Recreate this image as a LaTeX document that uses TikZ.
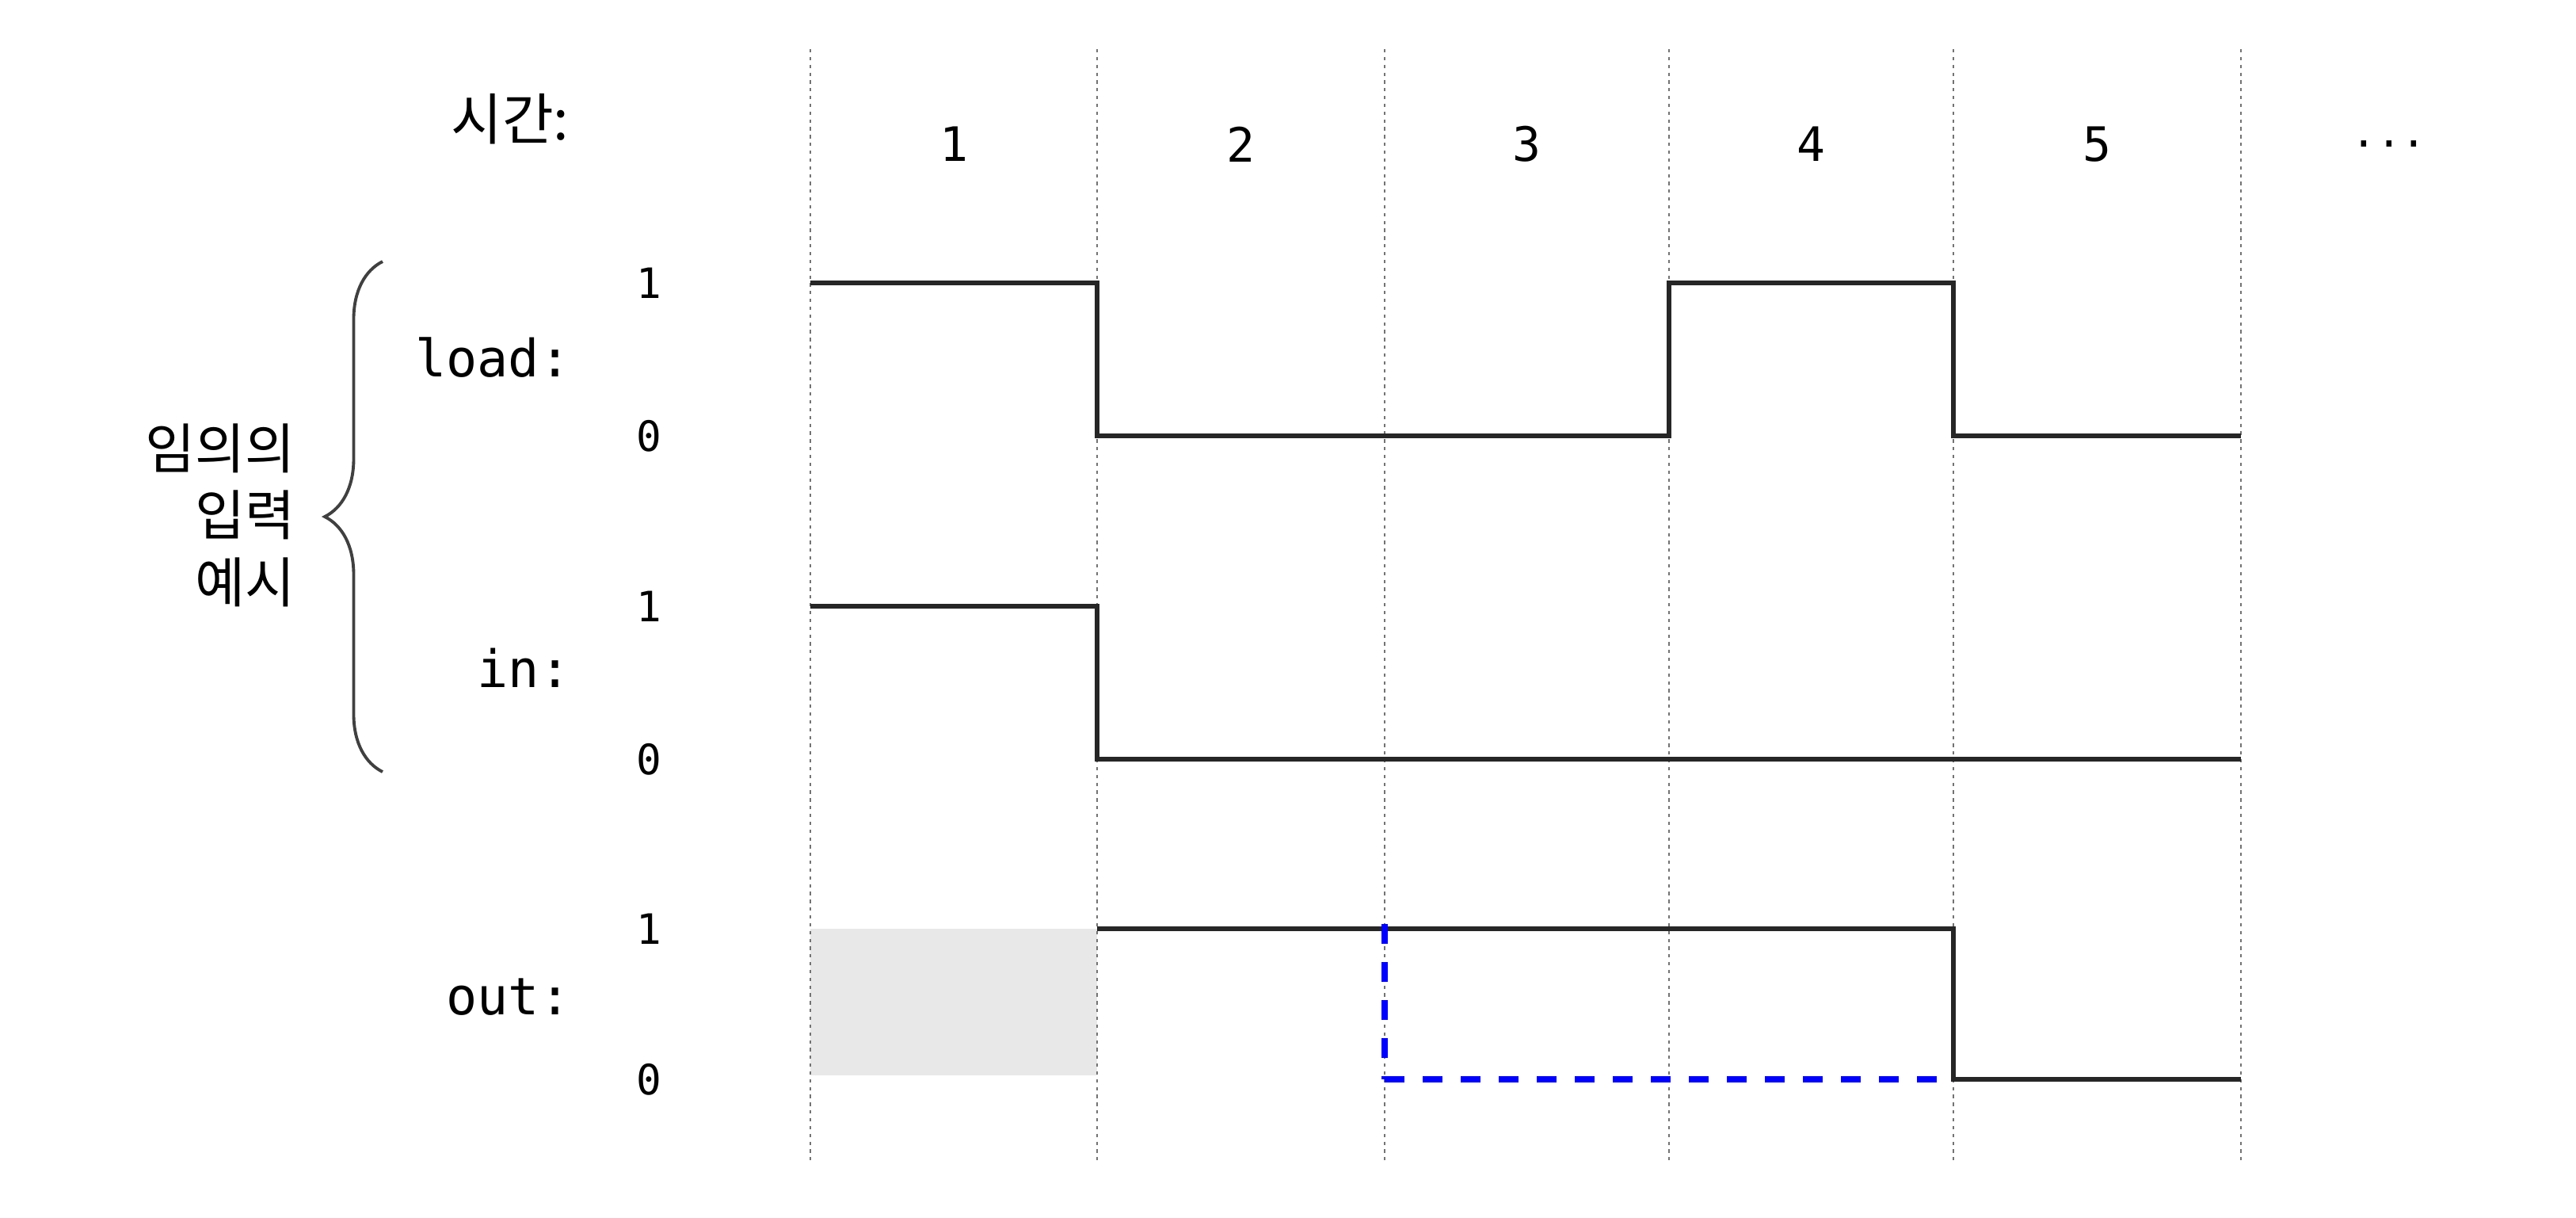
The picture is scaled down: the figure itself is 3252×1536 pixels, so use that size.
\documentclass[tikz,border=0pt]{standalone}
\usepackage{fontspec}
\setmonofont{DejaVu Sans Mono}
\newfontfamily\krfont{Noto Sans CJK KR}
\usetikzlibrary{calc, decorations.pathreplacing}
\pgfdeclarelayer{background}
\pgfsetlayers{background,main}
\tikzset{
    gridline/.style={draw=black!55, line width=0.8pt, dash pattern=on 1.2pt off 1.6pt},
    wave/.style={draw=black!85, line width=1.6pt},
    guess/.style={draw=blue, line width=2.3pt, dash pattern=on 0.25cm off 0.23cm},
    unknown/.style={fill=black!9, draw=none},
    level/.style={font=\ttfamily\fontsize{15}{18}\selectfont, inner sep=0pt},
    tick/.style={font=\ttfamily\fontsize{17}{20}\selectfont, inner sep=0pt},
    signame/.style={font=\ttfamily\fontsize{18.5}{22}\selectfont, anchor=base east, inner sep=0pt},
    krtext/.style={font=\krfont\fontsize{20}{23}\selectfont, inner sep=0pt},
}

\begin{document}
\begin{tikzpicture}[x=0.01cm, y=-0.01cm]
    \useasboundingbox (0,0) rectangle (3252,1536);

    % clock cycle boundaries
    \foreach \i/\x in {0/1023, 1/1385, 2/1748, 3/2107, 4/2466, 5/2829} {
        \coordinate (t\i) at (\x,0);
        \draw[gridline] (\x,62) -- (\x,1470);
    }

    % signal levels
    \coordinate (load1) at (0,357);
    \coordinate (load0) at (0,550);
    \coordinate (in1) at (0,765);
    \coordinate (in0) at (0,958);
    \coordinate (out1) at (0,1172);
    \coordinate (out0) at (0,1362);
    \coordinate (lvl) at (819,0);

    % time row
    \node[krtext, anchor=east] (timelabel) at (719,150) {시간:};
    \foreach \n/\x in {1/1204, 2/1566, 3/1927, 4/2286, 5/2647} {
        \node[tick] (cyc\n) at (\x,182) {\n};
    }
    \node[level] (more) at (3016,182) {...};

    % signal names and levels
    \node[signame] (loadname) at (721,475) {load:};
    \node[signame] (inname) at (721,867) {in:};
    \node[signame] (outname) at (721,1280) {out:};
    \foreach \s in {load, in, out} {
        \node[level] (\s-hi) at (lvl |- \s1) {1};
        \node[level] (\s-lo) at (lvl |- \s0) {0};
    }

    % brace over the inputs
    \draw[draw=black!75, line width=1.1pt, decorate, decoration={brace, amplitude=0.73cm}]
        (483,974) -- (483,330);
    \node[krtext, font=\krfont\fontsize{19.5}{24}\selectfont, align=right, anchor=east]
        (inputnote) at (373,650) {임의의\\입력\\예시};

    % waveforms
    \draw[wave] (t0 |- load1) -- (t1 |- load1) -- (t1 |- load0) -- (t3 |- load0)
        -- (t3 |- load1) -- (t4 |- load1) -- (t4 |- load0) -- (t5 |- load0);
    \draw[wave] (t0 |- in1) -- (t1 |- in1) -- (t1 |- in0) -- (t5 |- in0);
    \begin{pgfonlayer}{background}
        \fill[unknown] (t0 |- out1) rectangle ($(t1 |- out0)+(0,-5)$);
    \end{pgfonlayer}
    \draw[wave] (t1 |- out1) -- (t4 |- out1) -- (t4 |- out0) -- (t5 |- out0);

    % alternative output
    \coordinate (g0) at ($(t2 |- out1)+(0,-6)$);
    \coordinate (g1) at ($(t4 |- out0)+(-14,0)$);
    \draw[guess] (g0) -- (t2 |- out0);
    \draw[guess] (t2 |- out0) -- (g1);
\end{tikzpicture}
\end{document}
